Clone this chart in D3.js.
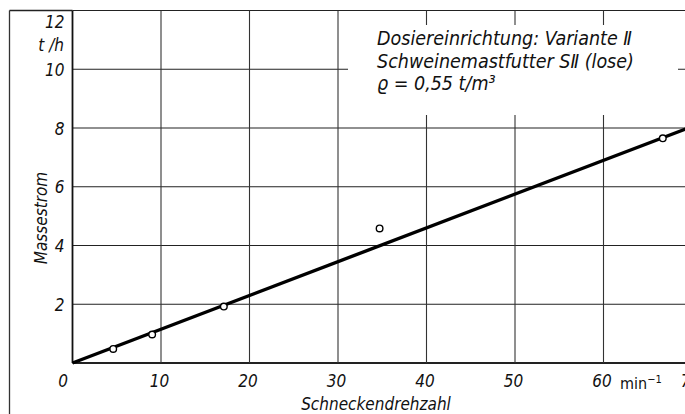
<!DOCTYPE html>
<html>
<head>
<meta charset="utf-8">
<script src="https://cdn.jsdelivr.net/npm/d3@7"></script>
<style>
  body { margin: 0; background: #fff; }
  svg text { font-family: "Liberation Sans Narrow", "DejaVu Sans Condensed", sans-serif; font-style: italic; fill: #111; }
</style>
</head>
<body>
<svg class="chart"></svg>
<script>
var drehzahl = [4.6, 9.0, 17.1, 34.7, 66.7];
var massestrom = [0.48, 0.97, 1.92, 4.58, 7.65];

// Ausgleichsgerade
var geradeX = [0, 70];
var geradeY = [0, 8.05];

var xTicks = [0, 10, 20, 30, 40, 50, 60, 70];
var yTicks = [0, 2, 4, 6, 8, 10, 12];

var notiz = [
  "Dosiereinrichtung: Variante \u2161",
  "Schweinemastfutter S\u2161 (lose)",
  "\u03f1  = 0,55 t/m\u00b3"
];

var W = 685, H = 414;

var svg = d3.select(".chart")
    .attr("width", W)
    .attr("height", H);

var x = d3.scaleLinear().domain([0, 70]).range([72.5, 692]);
var y = d3.scaleLinear().domain([0, 12]).range([363, 10.5]);

// Rahmen
svg.append("line").attr("x1", 9.5).attr("x2", 9.5).attr("y1", 10.5).attr("y2", H)
    .attr("stroke", "#333").attr("stroke-width", 1.3);

// Gitter
svg.append("g").selectAll("line")
    .data(yTicks)
  .enter().append("line")
    .attr("x1", x(0)).attr("x2", W)
    .attr("y1", function(d) { return y(d); })
    .attr("y2", function(d) { return y(d); })
    .attr("stroke", "#222")
    .attr("stroke-width", function(d) { return d === 0 ? 1.8 : 1.1; });

svg.append("line").attr("x1", 9.5).attr("x2", x(0)).attr("y1", y(12)).attr("y2", y(12))
    .attr("stroke", "#222").attr("stroke-width", 1.3);

svg.append("g").selectAll("line")
    .data(xTicks.filter(function(d) { return d > 0; }))
  .enter().append("line")
    .attr("x1", function(d) { return x(d); })
    .attr("x2", function(d) { return x(d); })
    .attr("y1", y(12)).attr("y2", y(0))
    .attr("stroke", "#333").attr("stroke-width", 1.1);

// Y-Achse
svg.append("line").attr("x1", x(0)).attr("x2", x(0)).attr("y1", y(12)).attr("y2", y(0))
    .attr("stroke", "#111").attr("stroke-width", 1.8);

// weisses Feld fuer die Beschriftung
svg.append("rect").attr("x", 348).attr("y", 25).attr("width", 330).attr("height", 90)
    .attr("fill", "#fff");

svg.selectAll(".notiz")
    .data(notiz)
  .enter().append("text")
    .attr("class", "notiz")
    .attr("x", 377)
    .attr("y", function(d, i) { return 45 + i * 22.5; })
    .style("font-size", "19.5px")
    .text(function(d) { return d; });

// Ausgleichsgerade
var linie = d3.line()
    .x(function(d) { return x(d[0]); })
    .y(function(d) { return y(d[1]); });

svg.append("path")
    .datum(d3.zip(geradeX, geradeY))
    .attr("d", linie)
    .attr("fill", "none")
    .attr("stroke", "#000")
    .attr("stroke-width", 3.4);

// Messpunkte
svg.selectAll(".punkt")
    .data(d3.zip(drehzahl, massestrom))
  .enter().append("circle")
    .attr("class", "punkt")
    .attr("cx", function(d) { return x(d[0]); })
    .attr("cy", function(d) { return y(d[1]); })
    .attr("r", 3.3)
    .attr("fill", "#fff")
    .attr("stroke", "#000")
    .attr("stroke-width", 1.4);

// Achsenbeschriftung Y
var yAxis = svg.append("g")
    .attr("transform", "translate(" + x(0) + ",0)")
    .call(d3.axisLeft(y).tickValues(yTicks.filter(function(d) { return d > 0; }))
      .tickSize(0).tickPadding(8));
yAxis.select(".domain").remove();
yAxis.selectAll("text")
    .attr("font-family", null)
    .style("font-size", "17px")
    .attr("dy", function(d) { return d === 12 ? "1.0em" : "0.36em"; });

svg.append("text")
    .attr("x", 64).attr("y", 51)
    .attr("text-anchor", "end")
    .style("font-size", "17px")
    .text("t /h");

// Achsenbeschriftung X
var xAxis = svg.append("g")
    .attr("transform", "translate(0," + y(0) + ")")
    .call(d3.axisBottom(x).tickValues(xTicks).tickSize(0).tickPadding(12)
      .tickFormat(d3.format("d")));
xAxis.select(".domain").remove();
xAxis.selectAll("text")
    .attr("font-family", null)
    .style("font-size", "17px")
    .attr("dx", function(d) { return d === 0 ? -10 : -2; });

svg.append("text")
    .attr("x", 620).attr("y", 389)
    .style("font-size", "16px")
    .style("font-style", "normal")
    .html("min<tspan dy='-6' style='font-size:11px'>\u22121</tspan>");

svg.append("text")
    .attr("x", 376).attr("y", 410)
    .attr("text-anchor", "middle")
    .style("font-size", "17px")
    .text("Schneckendrehzahl");

svg.append("text")
    .attr("transform", "translate(47,218) rotate(-90)")
    .attr("text-anchor", "middle")
    .style("font-size", "17px")
    .text("Massestrom");
</script>
</body>
</html>
